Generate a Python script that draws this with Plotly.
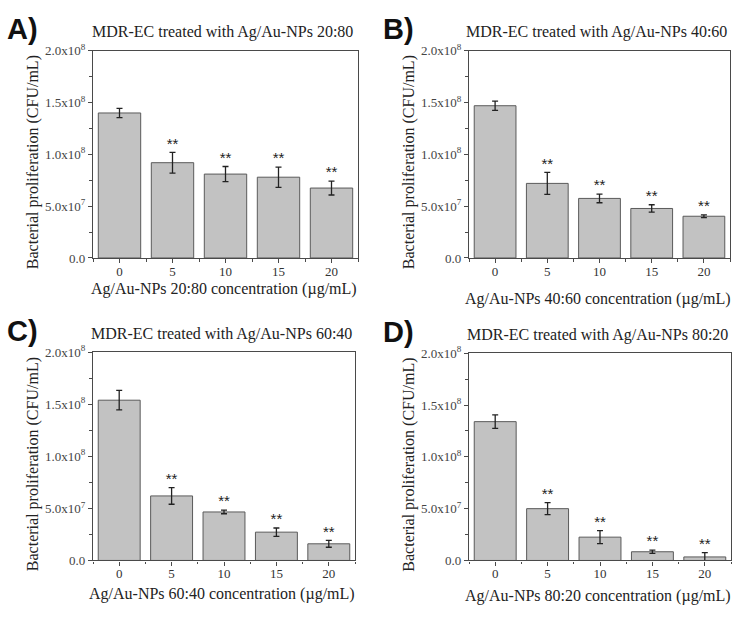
import plotly.graph_objects as go

# concentrations (µg/mL) on the x axis
conc = ["0", "5", "10", "15", "20"]

# Ag/Au ratios, one per panel
ratios = ["20:80", "40:60", "60:40", "80:20"]
panel_labels = ["A)", "B)", "C)", "D)"]

# mean bacterial proliferation (CFU/mL) and error (SD)
mean_2080 = [1.40e8, 0.92e8, 0.81e8, 0.78e8, 0.675e8]
err_2080 = [0.045e8, 0.10e8, 0.073e8, 0.098e8, 0.067e8]

mean_4060 = [1.47e8, 0.72e8, 0.575e8, 0.478e8, 0.403e8]
err_4060 = [0.045e8, 0.106e8, 0.042e8, 0.036e8, 0.014e8]

mean_6040 = [1.54e8, 0.62e8, 0.466e8, 0.272e8, 0.16e8]
err_6040 = [0.094e8, 0.08e8, 0.017e8, 0.04e8, 0.033e8]

mean_8020 = [1.34e8, 0.50e8, 0.225e8, 0.084e8, 0.034e8]
err_8020 = [0.065e8, 0.058e8, 0.062e8, 0.015e8, 0.042e8]

# significance marks
signif = ["", "**", "**", "**", "**"]

means = [mean_2080, mean_4060, mean_6040, mean_8020]
errs = [err_2080, err_4060, err_6040, err_8020]

yticks = [0, 5e7, 1e8, 1.5e8, 2e8]
yticktext = ["0.0", "5.0x10<sup>7</sup>", "1.0x10<sup>8</sup>",
             "1.5x10<sup>8</sup>", "2.0x10<sup>8</sup>"]

W, H = 745, 620
# plot area boxes in pixels: left, right, top, bottom
boxes = [(93, 358, 43, 256), (469, 730, 43, 256),
         (93, 355, 353, 567), (469, 731, 354, 567)]
# x title centre y (pixels)
xtitle_y = [288, 298, 601, 604]

serif = "Liberation Serif"
axis_col = "#4a4a4a"

def px(x):
    return x / W

def py(y):
    return 1 - y / H

xs = list(range(len(conc)))

fig = go.Figure()
layout = dict(width=W, height=H, margin=dict(l=0, r=0, t=0, b=0),
              paper_bgcolor="white", plot_bgcolor="white",
              showlegend=False, bargap=0.2,
              font=dict(family=serif, color="#222"))
annotations = []

for i in range(4):
    n = "" if i == 0 else str(i + 1)
    l, r, t, b = boxes[i]
    fig.add_trace(go.Bar(
        x=xs, y=means[i], xaxis="x" + n, yaxis="y" + n,
        marker=dict(color="#c2c2c2", line=dict(color="#5a5a5a", width=1)),
        error_y=dict(type="data", array=errs[i], color="#222",
                     thickness=1.3, width=3),
        hoverinfo="y"))
    tops = [m + e for m, e in zip(means[i], errs[i])]
    fig.add_trace(go.Scatter(
        x=xs, y=tops, xaxis="x" + n, yaxis="y" + n, mode="text",
        text=signif, textposition="top center",
        textfont=dict(family="Liberation Sans", size=15, color="#222"),
        hoverinfo="skip"))

    layout["xaxis" + n] = dict(
        domain=[px(l), px(r)], anchor="y" + n, range=[-0.5, 4.5],
        tickmode="array", tickvals=xs, ticktext=conc,
        ticks="outside", ticklen=4, tickcolor=axis_col,
        ticklabelstandoff=-3,
        minor=dict(ticks="outside", ticklen=2.5, dtick=0.5, tick0=0,
                   tickcolor=axis_col),
        showline=True, linecolor=axis_col, linewidth=1.2, mirror=True,
        showgrid=False, zeroline=False, fixedrange=True,
        tickfont=dict(family=serif, size=13, color="#333"))
    layout["yaxis" + n] = dict(
        domain=[py(b), py(t)], anchor="x" + n, range=[0, 2e8],
        tickmode="array", tickvals=yticks, ticktext=yticktext,
        ticks="outside", ticklen=4, tickcolor=axis_col,
        minor=dict(ticks="outside", ticklen=2.5, dtick=2.5e7,
                   tickcolor=axis_col),
        showline=True, linecolor=axis_col, linewidth=1.2, mirror=True,
        showgrid=False, zeroline=False, fixedrange=True,
        tickfont=dict(family=serif, size=13, color="#444"))

    # panel title
    annotations.append(dict(
        x=px((l + r) / 2 - 3), y=py(t - 19), xref="paper", yref="paper",
        text="MDR-EC treated with Ag/Au-NPs " + ratios[i], showarrow=False,
        font=dict(family=serif, size=16, color="#222"),
        xanchor="center", yanchor="middle"))
    # x axis title
    annotations.append(dict(
        x=px((l + r) / 2 - 2), y=py(xtitle_y[i]), xref="paper", yref="paper",
        text="Ag/Au-NPs " + ratios[i] + " concentration (µg/mL)",
        showarrow=False, font=dict(family=serif, size=16, color="#222"),
        xanchor="center", yanchor="middle"))
    # y axis title
    annotations.append(dict(
        x=px(l - 60), y=py((t + b) / 2 + 8), xref="paper", yref="paper",
        text="Bacterial proliferation (CFU/mL)", textangle=-90,
        showarrow=False, font=dict(family=serif, size=16, color="#222"),
        xanchor="center", yanchor="middle"))
    # panel letter
    annotations.append(dict(
        x=px(l - 71), y=py(t - 22), xref="paper", yref="paper",
        text="<b>" + panel_labels[i] + "</b>", showarrow=False,
        font=dict(family="Liberation Sans", size=29, color="#111"),
        xanchor="center", yanchor="middle"))

layout["annotations"] = annotations
fig.update_layout(**layout)

# drop the default page margin so the figure sits at the window's corner
fig.write_html("out.html", config={"displayModeBar": False},
               post_script="document.body.style.margin='0px';")
